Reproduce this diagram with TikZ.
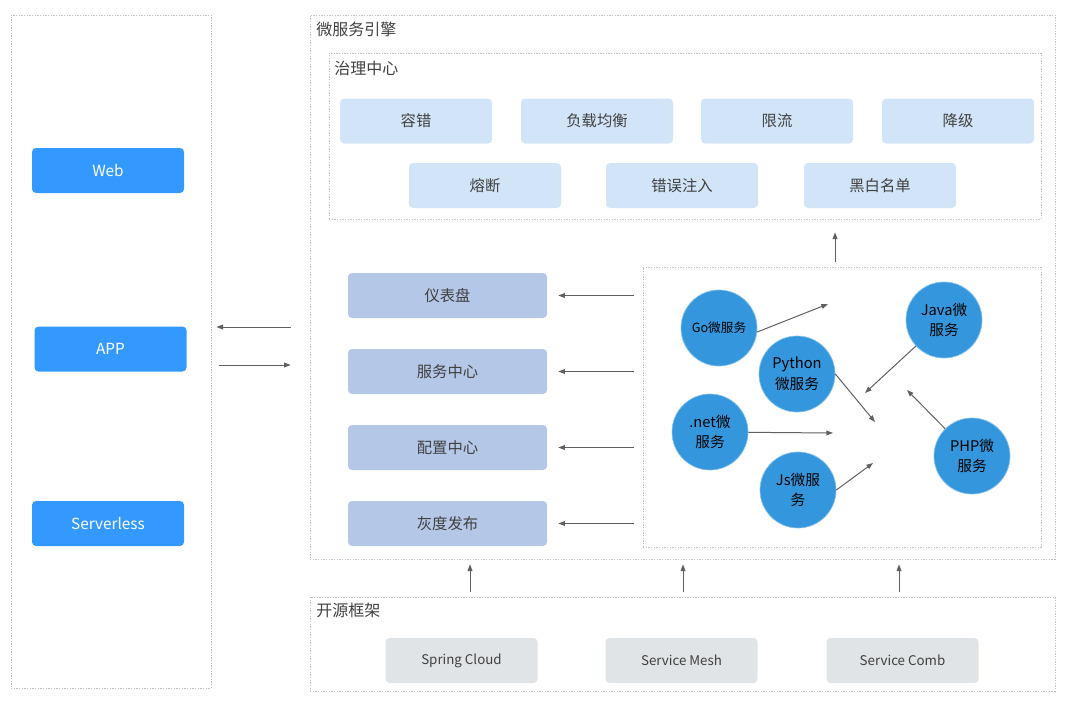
\documentclass[tikz,border=0pt]{standalone}
\usepackage{fontspec}
\setmainfont{Noto Sans CJK SC}
\usepackage{tikz}
\usetikzlibrary{arrows.meta,positioning,calc}
\definecolor{clientblue}{HTML}{3399FF}
\definecolor{govblue}{HTML}{D2E5F8}
\definecolor{mgrblue}{HTML}{B4C7E7}
\definecolor{fwgray}{HTML}{E1E4E6}
\definecolor{svcblue}{HTML}{3497DD}
\definecolor{framegray}{HTML}{BFBFBF}
\definecolor{linegray}{HTML}{606060}
\definecolor{boxtext}{HTML}{404040}
\tikzset{
  frm/.style={draw=framegray, dash pattern=on 1pt off 1pt, line width=.5pt, inner sep=0pt},
  lbl/.style={anchor=west, inner sep=0pt, font=\fontsize{12}{14}\selectfont, text=boxtext},
  blk/.style={rounded corners=3pt, inner sep=0pt, minimum width=114pt, minimum height=33.75pt, font=\fontsize{11.5}{14}\selectfont, text=boxtext},
  blkc/.style={blk, fill=clientblue, text=white},
  blkg/.style={blk, fill=govblue},
  blkm/.style={blk, fill=mgrblue, minimum width=149.25pt},
  blkf/.style={blk, fill=fwgray, font=\fontsize{10}{12}\selectfont},
  svc/.style={circle, fill=svcblue, draw=svcblue!60!white, line width=.5pt, minimum size=57pt, inner sep=0pt, align=center, font=\fontsize{11}{15.5}\selectfont, text=black},
  ar/.style={-{Triangle[length=5pt, width=3.6pt]}, line width=.75pt, draw=linegray},
}

\begin{document}
\begin{tikzpicture}[x=0.75pt, y=-0.75pt]
  \useasboundingbox (0,0) rectangle (1069,703);
  % frames
  \node[frm, minimum width=150pt, minimum height=504.75pt] (client) at (111,351.5) {};
  \node[frm, minimum width=558.75pt, minimum height=408pt] (eng) at (682.5,287) {};
  \node[frm, minimum width=534pt, minimum height=124.5pt] (gov) at (685,136) {};
  \node[frm, minimum width=298.5pt, minimum height=210pt] (pool) at (842,407) {};
  \node[frm, minimum width=558.75pt, minimum height=70.5pt] (fw) at (682.5,644) {};
  \node[lbl] (englbl) at (316,29) {微服务引擎};
  \node[lbl] (govlbl) at (334,68) {治理中心};
  \node[lbl] (fwlbl) at (316,610) {开源框架};

  % clients
  \node[blkc] (web) at (108,170.5) {Web};
  \node[blkc] (app) at (110.5,349) {APP};
  \node[blkc] (sless) at (108,523.5) {Serverless};

  % governance
  \node[blkg] (g1) at (416,121) {容错};
  \node[blkg] (g2) at (597,121) {负载均衡};
  \node[blkg] (g3) at (777,121) {限流};
  \node[blkg] (g4) at (958,121) {降级};
  \node[blkg] (g5) at (485,185.5) {熔断};
  \node[blkg] (g6) at (682,185.5) {错误注入};
  \node[blkg] (g7) at (880,185.5) {黑白名单};

  % management
  \node[blkm] (dash) at (447.5,295.5) {仪表盘};
  \node[blkm] (svcc) at (447.5,371.5) {服务中心};
  \node[blkm] (conf) at (447.5,447.5) {配置中心};
  \node[blkm] (gray) at (447.5,523.5) {灰度发布};

  % microservices
  \node[svc, font=\fontsize{9.5}{12}\selectfont] (go) at (719,328) {Go微服务};
  \node[svc] (py) at (797,374) {Python\\微服务};
  \node[svc] (net) at (710,432) {.net微\\服务};
  \node[svc] (js) at (798,490) {Js微服\\务};
  \node[svc] (java) at (944,320) {Java微\\服务};
  \node[svc] (php) at (972,456) {PHP微\\服务};
  \coordinate (gohit) at (828,304);
  \coordinate (pyhit) at (875,422);
  \coordinate (nethit) at (833,433);
  \coordinate (jshit) at (873,463);
  \coordinate (javahit) at (865,393);
  \coordinate (phphit) at (907,390);
  \draw[ar] (go.-6) -- (gohit);
  \draw[ar] (py.east) -- (pyhit);
  \draw[ar] (net) -- (nethit);
  \draw[ar] (js.east) -- (jshit);
  \draw[ar] (java) -- (javahit);
  \draw[ar] (php) -- (phphit);

  % frames to frames
  \draw[ar, shorten <=3.75pt, shorten >=9.75pt] (pool.north -| 835,0) -- (gov.south -| 835,0);
  \foreach \m in {dash,svcc,conf,gray}
    \draw[ar, shorten <=6.75pt, shorten >=8.25pt] (\m -| pool.west) -- (\m.east);
  \draw[ar, shorten <=14.25pt, shorten >=3.75pt] (eng.west |- 0,327) -- (client.east |- 0,327);
  \draw[ar, shorten <=6pt, shorten >=14.25pt] (client.east |- 0,365) -- (eng.west |- 0,365);
  \foreach \x in {470,683,899}
    \draw[ar, shorten <=3.75pt, shorten >=3.75pt] (fw.north -| \x,0) -- (eng.south -| \x,0);

  % open source frameworks
  \node[blkf] (sc) at (461.5,660.5) {Spring Cloud};
  \node[blkf] (sm) at (681.5,660.5) {Service Mesh};
  \node[blkf] (scb) at (902.5,660.5) {Service Comb};
\end{tikzpicture}
\end{document}
